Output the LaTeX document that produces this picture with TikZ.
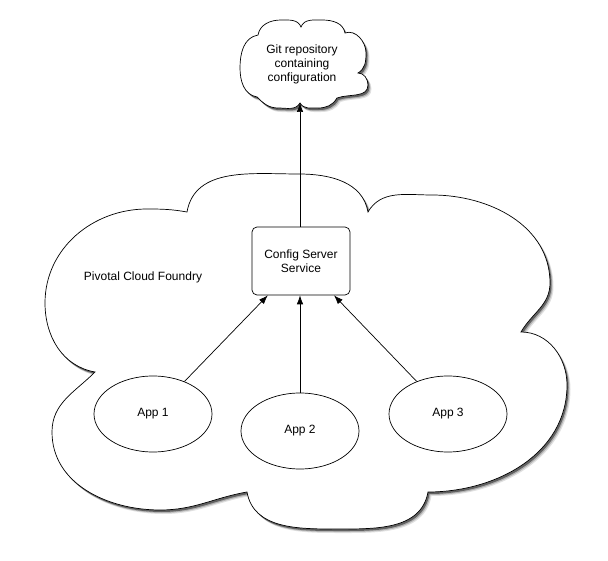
\documentclass[tikz,border=0pt]{standalone}
\usepackage{fontspec}
\setmainfont{Liberation Sans}
\usepackage{tikz}
\usetikzlibrary{shapes.geometric, arrows.meta, shadows}

\begin{document}
\begin{tikzpicture}[x=1pt, y=1pt, line width=0.7pt,
        every node/.style={font=\fontsize{12}{14}\selectfont},
        cloudline/.style={draw, fill=white,
            drop shadow={shadow xshift=3.5pt, shadow yshift=-4pt, opacity=.12, fill=black},
            drop shadow={shadow xshift=2.5pt, shadow yshift=-3pt, opacity=.2, fill=black},
            drop shadow={shadow xshift=1.5pt, shadow yshift=-2pt, opacity=.45, fill=black}},
        box/.style={rectangle, draw, fill=white, rounded corners=5pt, align=center, minimum width=98pt, minimum height=68pt},
        app/.style={ellipse, draw, fill=white, minimum width=118pt, minimum height=76pt},
        line/.style={draw, -{Latex[length=9pt, width=6.5pt]}}]

        \useasboundingbox (0,0) rectangle (608,-561);

        % Clouds
        \path [cloudline] (187,-212)
            to[out=80, in=180] (299,-174) to[out=0, in=100] (368,-212)
            to[out=60, in=180] (432,-195) to[out=0, in=90] (550,-283)
            to[out=-90, in=60] (521,-332)
            to[out=0, in=90] (567,-385) to[out=-90, in=0] (428,-492)
            to[out=-100, in=0] (335,-529) to[out=180, in=-80] (247,-492)
            to[out=-170, in=0] (160,-510) to[out=180, in=-90] (52,-432)
            to[out=90, in=-135] (95,-372)
            to[out=170, in=-90] (45,-303) to[out=90, in=180] (147,-209)
            to[out=0, in=170] cycle;

        \path [cloudline] (258,-35)
            to[out=80, in=180] (281,-20) to[out=0, in=110] (301,-27)
            to[out=70, in=180] (322,-20) to[out=0, in=100] (345,-33)
            to[out=20, in=90] (366,-53) to[out=-90, in=30] (358,-73)
            to[out=0, in=90] (368,-85) to[out=-90, in=20] (337,-98)
            to[out=-120, in=0] (318,-108) to[out=180, in=-60] (300,-103)
            to[out=-120, in=0] (278,-108) to[out=180, in=-45] (257,-97)
            to[out=170, in=-90] (240,-68) to[out=90, in=190] cycle;
        \coordinate (gitend) at (300,-103);

        % Nodes
        \node [align=center] (git) at (302,-64) {Git repository\\containing\\configuration};
        \node (pcf) at (143,-277) {Pivotal Cloud Foundry};
        \node [box] (config) at (301,-261) {Config Server\\Service};
        \node [app] (app1) at (153,-414) {App 1};
        \node [app] (app2) at (300,-431) {App 2};
        \node [app] (app3) at (448,-414) {App 3};

        % Edges
        \path [line] (config.north -| gitend) -- (gitend);
        \path [line] (app1) -- (config);
        \path [line] (app2) -- (app2 |- config.south);
        \path [line] (app3) -- (config);

    \end{tikzpicture}
\end{document}
